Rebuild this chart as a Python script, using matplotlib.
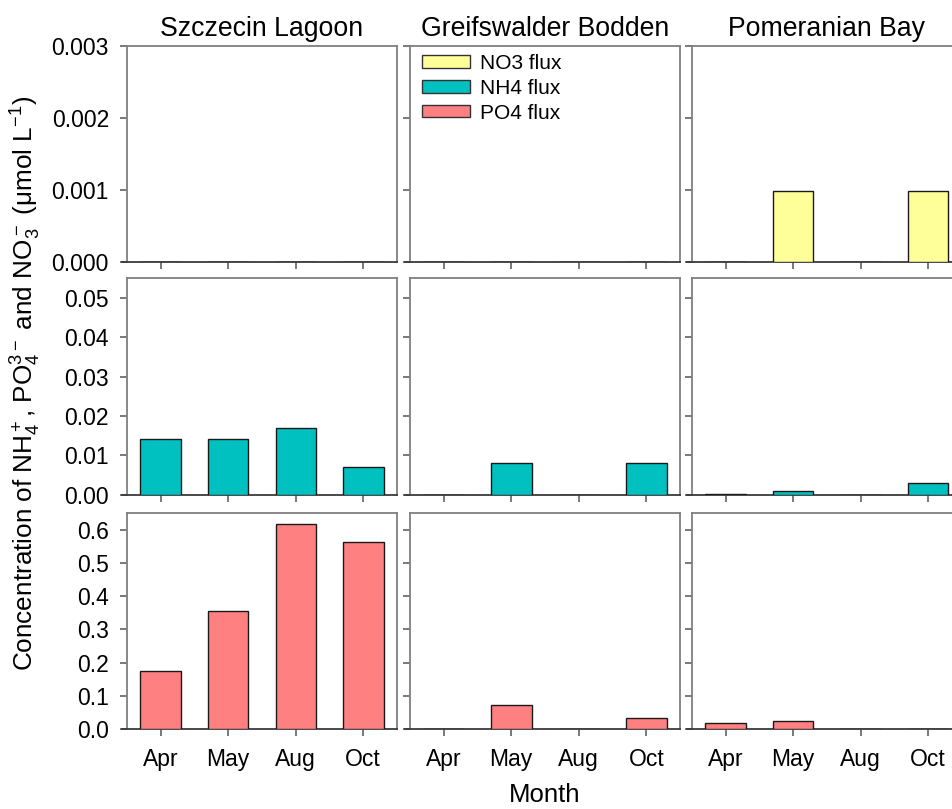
import matplotlib
matplotlib.use("Agg")
import matplotlib.pyplot as plt
from matplotlib.patches import Patch

plt.rcParams['font.family'] = ['Liberation Sans', 'DejaVu Sans']
plt.rcParams['mathtext.fontset'] = 'custom'
plt.rcParams['mathtext.rm'] = 'Liberation Sans'
plt.rcParams['mathtext.it'] = 'Liberation Sans:italic'
plt.rcParams['mathtext.bf'] = 'Liberation Sans:bold'

months = ["Apr", "May", "Aug", "Oct"]
sites = ["Szczecin Lagoon", "Greifswalder Bodden", "Pomeranian Bay"]

# fluxes per site, in month order
no3_flux = {
    "Szczecin Lagoon": [0.0, 0.0, 0.0, 0.0],
    "Greifswalder Bodden": [0.0, 0.0, 0.0, 0.0],
    "Pomeranian Bay": [0.0, 0.00098, 0.0, 0.00098],
}
nh4_flux = {
    "Szczecin Lagoon": [0.014, 0.014, 0.017, 0.007],
    "Greifswalder Bodden": [0.0, 0.0079, 0.0, 0.0079],
    "Pomeranian Bay": [0.0002, 0.0009, 0.0, 0.0028],
}
po4_flux = {
    "Szczecin Lagoon": [0.174, 0.356, 0.618, 0.564],
    "Greifswalder Bodden": [0.0, 0.072, 0.0, 0.033],
    "Pomeranian Bay": [0.019, 0.024, 0.0, 0.0],
}

series = [
    ("NO3 flux", no3_flux, "#FFFF99", (0, 0.003), [0.000, 0.001, 0.002, 0.003], "{:.3f}"),
    ("NH4 flux", nh4_flux, "#00C0C0", (0, 0.055), [0.00, 0.01, 0.02, 0.03, 0.04, 0.05], "{:.2f}"),
    ("PO4 flux", po4_flux, "#FF8080", (0, 0.65), [0.0, 0.1, 0.2, 0.3, 0.4, 0.5, 0.6], "{:.1f}"),
]

W, H = 953, 809
fig = plt.figure(figsize=(W / 100, H / 100), dpi=100)

col_left = [127, 410, 692]
col_w = 270
row_top = [45.7, 278.3, 513.3]
row_h = [216, 216.2, 215.7]

frame_col = "#7f7f7f"
axis_col = "#3a3a3a"
axes_grid = []
for r, (name, data, color, ylim, yticks, fmt) in enumerate(series):
    row = []
    for c, site in enumerate(sites):
        ax = fig.add_axes([col_left[c] / W, 1 - (row_top[r] + row_h[r]) / H,
                           col_w / W, row_h[r] / H])
        x = list(range(len(months)))
        ax.bar(x, data[site], width=0.6, color=color, edgecolor="#1a1a1a",
               linewidth=1.0, zorder=3)
        ax.set_xlim(-0.5, 3.5)
        ax.set_ylim(*ylim)
        ax.set_xticks(x)
        ax.set_yticks(yticks)
        for s in ["left", "top", "right"]:
            ax.spines[s].set_color(frame_col)
            ax.spines[s].set_linewidth(1.3)
        ax.spines["bottom"].set_color(axis_col)
        ax.spines["bottom"].set_linewidth(1.3)
        ax.spines["bottom"].set_bounds(-0.5 - 5 / 67.5, 3.5)
        ax.tick_params(axis="both", direction="out", length=5, width=1.1,
                       color="#555555", labelsize=16.5)
        ax.tick_params(axis="x", pad=9)
        ax.tick_params(axis="y", pad=8)
        if c == 0:
            ax.set_yticklabels([fmt.format(v) for v in yticks])
        else:
            ax.set_yticklabels([])
        if r == 2:
            ax.set_xticklabels(months)
        else:
            ax.set_xticklabels([])
        if r == 0:
            ax.set_title(site, fontsize=19.2, pad=7)
        row.append(ax)
    axes_grid.append(row)

handles = [Patch(facecolor=s[2], edgecolor="#333333", linewidth=1.0, label=s[0])
           for s in series]
axes_grid[0][1].legend(handles=handles, loc="upper left", frameon=False,
                       fontsize=15, handlelength=2.3, handleheight=0.55,
                       handletextpad=0.45, labelspacing=0.28,
                       borderaxespad=0.2, bbox_to_anchor=(0.0, 1.02))

fig.text(26 / W, 1 - 383 / H,
         r"Concentration of NH$_4^+$, PO$_4^{3-}$ and NO$_3^-$ ($\mathregular{\mu}$mol L$^{-1}$)",
         rotation=90, ha="center", va="center", fontsize=18.8)
fig.text((col_left[1] + col_w / 2) / W, 1 - 795 / H, "Month",
         ha="center", va="center", fontsize=18.5)

fig.savefig("out.png", dpi=100, facecolor="white")
